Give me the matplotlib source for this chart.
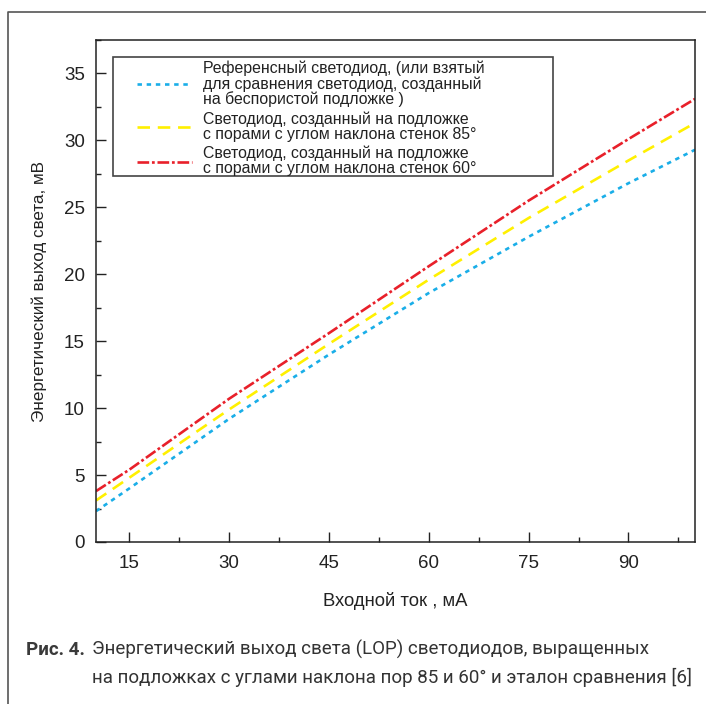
import matplotlib.pyplot as plt
from matplotlib.lines import Line2D
from matplotlib.patches import Rectangle
from matplotlib.ticker import MultipleLocator

# data
current_ma = [10, 15, 30, 45, 60, 75, 90, 100]
lop_ref = [2.3, 4.0, 9.2, 14.0, 18.6, 22.8, 26.8, 29.3]
lop_85 = [3.1, 4.8, 9.9, 14.8, 19.6, 24.2, 28.5, 31.3]
lop_60 = [3.8, 5.4, 10.7, 15.6, 20.6, 25.5, 30.1, 33.1]

series_labels = [
    "Референсный светодиод, (или взятый\nдля сравнения светодиод, созданный\nна беспористой подложке )",
    "Светодиод, созданный на подложке\nс порами с углом наклона стенок 85°",
    "Светодиод, созданный на подложке\nс порами с углом наклона стенок 60°",
]
x_ticks = [15, 30, 45, 60, 75, 90]
y_ticks = [0, 5, 10, 15, 20, 25, 30, 35]

plt.rcParams['font.family'] = ['Liberation Sans', 'DejaVu Sans']
plt.rcParams['lines.scale_dashes'] = False

fig = plt.figure(figsize=(7.06, 7.04), dpi=100)
ax = fig.add_axes([96/706, 162/704, 599/706, 502/704])

ax.plot(current_ma, lop_ref, color="#1aaee8", lw=1.9, dashes=(3.2, 3.4),
        label=series_labels[0])
ax.plot(current_ma, lop_85, color="#fff000", lw=1.9, dashes=(9.0, 5.6),
        label=series_labels[1])
ax.plot(current_ma, lop_60, color="#e8202a", lw=1.9, dashes=(8.4, 2.0, 2.0, 2.0),
        label=series_labels[2])

ax.set_xlim(10, 100)
ax.set_ylim(0, 37.5)
ax.set_xticks(x_ticks)
ax.set_yticks(y_ticks)
ax.xaxis.set_minor_locator(MultipleLocator(7.5))
ax.yaxis.set_minor_locator(MultipleLocator(2.5))
ax.tick_params(which='both', direction='in', top=False, right=False,
               width=1.0, color='#222222', labelsize=13.5, labelcolor='#222222')
ax.tick_params(axis='x', which='major', length=7.5, pad=9)
ax.tick_params(axis='y', which='major', length=7.5, pad=8)
ax.tick_params(which='minor', length=3.5)
for sp in ax.spines.values():
    sp.set_linewidth(1.1)
    sp.set_color('#222222')

ax.set_xlabel("Входной ток , мА", fontsize=13.3, color='#222222', labelpad=15)
ax.set_ylabel("Энергетический выход света, мВ", fontsize=12.3, color='#222222', labelpad=12)

leg = ax.legend(loc='upper left', bbox_to_anchor=(0.068, 0.959), frameon=False,
                fontsize=11.4, handlelength=3.5, handletextpad=0.7,
                labelspacing=0.25, borderpad=0, borderaxespad=0)
for t in leg.get_texts():
    t.set_color('#222222')
    t.set_linespacing(1.0)
ax.add_patch(Rectangle((0.028, 0.729), 0.7346, 0.2376, transform=ax.transAxes,
                       fill=False, edgecolor='#444444', lw=1.2, zorder=5))

# outer frame
fig.add_artist(Line2D([8/706, 8/706, 1.0], [0.0, 692/704, 692/704],
                      transform=fig.transFigure, color='#555555', lw=1.2))

# caption
cap_font = ['Roboto', 'DejaVu Sans']
fig.text(26/706, 49/704, "Рис. 4.", fontsize=13.5, fontweight='bold',
         color='#3a3a3a', family=cap_font, va='baseline')
fig.text(92/706, 49/704,
         "Энергетический выход света (LOP) светодиодов, выращенных",
         fontsize=13.5, color='#333333', family=cap_font, va='baseline')
fig.text(92/706, 21/704,
         "на подложках с углами наклона пор 85 и 60° и эталон сравнения [6]",
         fontsize=13.5, color='#333333', family=cap_font, va='baseline')

fig.savefig("out.png", dpi=100)
